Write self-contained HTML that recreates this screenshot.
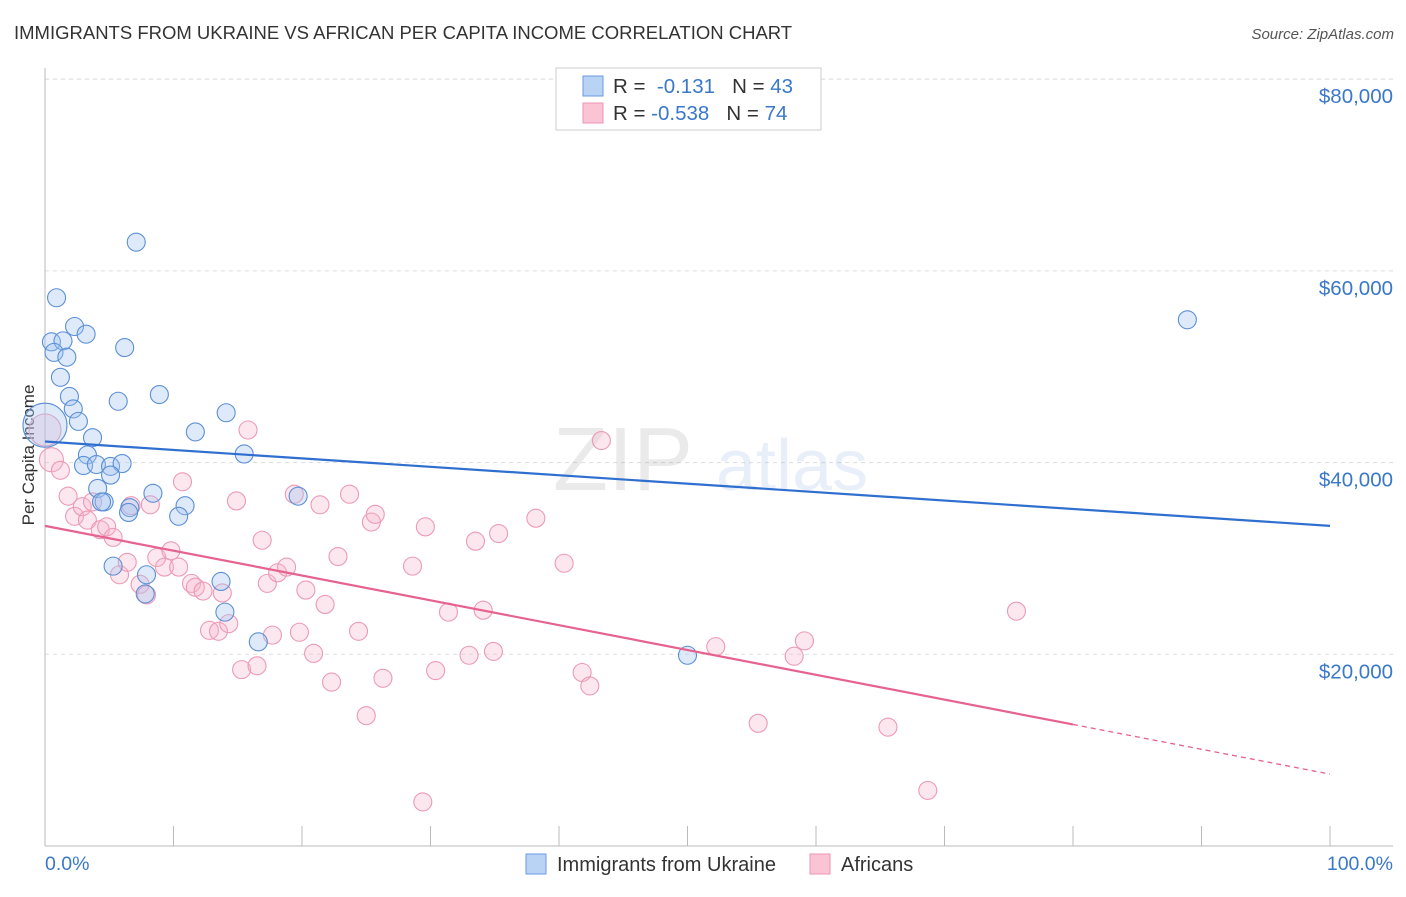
<!DOCTYPE html>
<html><head><meta charset="utf-8"><style>
body{margin:0;background:#fff;font-family:"Liberation Sans",sans-serif;}
svg text{font-family:"Liberation Sans",sans-serif;}
</style></head><body>
<svg width="1406" height="892" viewBox="0 0 1406 892" xmlns="http://www.w3.org/2000/svg">
<text x="14" y="39" font-size="18.5" fill="#333">IMMIGRANTS FROM UKRAINE VS AFRICAN PER CAPITA INCOME CORRELATION CHART</text>
<text x="1394" y="39" font-size="15" fill="#555" font-style="italic" text-anchor="end">Source: ZipAtlas.com</text>
<g id="grid"></g>
<g opacity="0.15"><text x="553" y="490" font-size="90" font-family="Liberation Serif" fill="#777">ZIP</text><text x="716" y="490" font-size="72" fill="#6b97d6">atlas</text></g>
<line x1="45" y1="68" x2="45" y2="846" stroke="#bbb"/>
<line x1="45" y1="846" x2="1393" y2="846" stroke="#bbb"/>
<text x="34" y="455" font-size="17" fill="#333" text-anchor="middle" transform="rotate(-90 34 455)">Per Capita Income</text>
<text x="45" y="870" font-size="19.5" fill="#3a78c9">0.0%</text>
<text x="1393" y="870" font-size="19.5" fill="#3a78c9" text-anchor="end">100.0%</text>
<g id="points"></g>
<g id="lines"></g>
<g>
<rect x="556" y="68" width="265" height="62" fill="#fff" stroke="#ccc"/>
<rect x="583" y="76" width="20" height="20" fill="#b9d3f5" stroke="#6a9ae0"/>
<rect x="583" y="103" width="20" height="20" fill="#fac4d4" stroke="#ec94b2"/>
<text x="613" y="93" font-size="20.5" fill="#333">R = <tspan fill="#3a78c9">&#160;-0.131</tspan>&#160;&#160;&#160;N = <tspan fill="#3a78c9">43</tspan></text>
<text x="613" y="120" font-size="20.5" fill="#333">R = <tspan fill="#3a78c9">-0.538</tspan>&#160;&#160;&#160;N = <tspan fill="#3a78c9">74</tspan></text>
</g>
<g>
<rect x="526" y="854" width="20" height="20" fill="#b9d3f5" stroke="#6a9ae0"/>
<text x="557" y="871" font-size="20" fill="#333">Immigrants from Ukraine</text>
<rect x="810" y="854" width="20" height="20" fill="#fac4d4" stroke="#ec94b2"/>
<text x="841" y="871" font-size="20" fill="#333">Africans</text>
</g>
</svg>
<script>
const yTicks=[20000,40000,60000,80000];
const yTickLabels=["$20,000","$40,000","$60,000","$80,000"];
const xTicks=[0,10,20,30,40,50,60,70,80,90,100];
const ukraineX=[7.1,0.9,2.3,3.2,0.5,1.4,0.7,1.7,6.2,1.2,1.9,2.2,2.6,5.7,8.9,3.7,14.1,11.7,3.3,3.0,4.0,5.1,6.0,15.5,5.1,4.1,8.4,4.6,4.4,6.6,6.5,10.9,10.4,19.7,5.3,7.9,7.8,13.7,14.0,16.6,50.0,88.9,0];
const ukraineY=[63.0,57.2,54.2,53.4,52.6,52.7,51.5,51.0,52.0,48.9,46.9,45.6,44.3,46.4,47.1,42.6,45.2,43.2,40.8,39.7,39.8,39.6,39.9,40.9,38.7,37.3,36.8,35.9,35.9,35.3,34.8,35.5,34.4,36.5,29.2,28.3,26.3,27.6,24.4,21.3,19.9,54.9,43.9];
const africaX=[0,0.5,1.2,1.8,2.3,2.9,3.3,3.7,4.3,4.8,5.3,5.8,6.4,6.7,7.4,7.9,8.2,8.7,9.3,9.8,10.4,10.7,11.4,11.7,12.3,12.8,13.5,13.8,14.3,14.9,15.3,15.8,16.5,16.9,17.3,17.7,18.1,18.8,19.4,19.8,20.3,20.9,21.4,21.8,22.3,22.8,23.7,24.4,25.0,25.4,25.7,26.3,28.6,29.6,29.4,30.4,31.4,33.0,33.5,34.1,34.9,35.3,38.2,40.4,41.8,42.4,43.3,52.2,55.5,58.3,59.1,65.6,68.7,75.6];
const africaY=[43.4,40.3,39.2,36.5,34.4,35.4,34.0,35.9,33.0,33.3,32.2,28.3,29.6,35.5,27.3,26.2,35.6,30.1,29.1,30.8,29.1,38.0,27.4,27.0,26.6,22.5,22.4,26.4,23.2,36.0,18.4,43.4,18.8,31.9,27.4,22.0,28.5,29.1,36.7,22.3,26.7,20.1,35.6,25.2,17.1,30.2,36.7,22.4,13.6,33.8,34.6,17.5,29.2,33.3,4.6,18.3,24.4,19.9,31.8,24.6,20.3,32.6,34.2,29.5,18.1,16.7,42.3,20.8,12.8,19.8,21.4,12.4,5.8,24.5];
const ukraineTrend=[42.2,33.4];
const africaTrend=[33.4,7.5];
const africaSolidEnd=80;
const NS="http://www.w3.org/2000/svg";
const X=v=>45+v*12.85;
const Y=v=>846-v*9.585;
function mk(t,a,p){const e=document.createElementNS(NS,t);for(const k in a)e.setAttribute(k,a[k]);p.appendChild(e);return e;}
const grid=document.getElementById('grid');
yTicks.forEach((t,i)=>{
 const l=mk('line',{x1:45,x2:1393,y1:Y(t/1000),y2:Y(t/1000),stroke:'#ddd','stroke-dasharray':'4,4'},grid);
 
 
 const tx=mk('text',{x:1393,y:Y(t/1000)+24,'font-size':20.5,fill:'#3a78c9','text-anchor':'end'},grid);
 tx.textContent=yTickLabels[i];
 
 
});
mk('line',{x1:45,x2:1393,y1:79,y2:79,stroke:'#ddd','stroke-dasharray':'4,4'},grid);
xTicks.forEach(t=>{
 const l=mk('line',{x1:X(t),x2:X(t),y1:826,y2:846,stroke:'#bbb'},grid);
 
 
});
const pts=document.getElementById('points');
africaX.forEach((x,i)=>{
 const r=(i<2)?(i==0?16:12):9;
 const c=mk('circle',{cx:X(x),cy:Y(africaY[i]),r:r,fill:'rgba(246,180,202,0.32)',stroke:'#ec9ab7','stroke-width':1.1},pts);
 
 
});
ukraineX.forEach((x,i)=>{
 const r=(i==ukraineX.length-1)?22:9;
 const c=mk('circle',{cx:X(x),cy:Y(ukraineY[i]),r:r,fill:'rgba(160,196,240,0.35)',stroke:'#5b8fd6','stroke-width':1.1},pts);
 
 
});
const lines=document.getElementById('lines');
const bl=mk('line',{x1:X(0),y1:Y(ukraineTrend[0]),x2:X(100),y2:Y(ukraineTrend[1]),stroke:'#2f6fd0','stroke-width':2.2},lines);


const pm=v=>africaTrend[0]+(africaTrend[1]-africaTrend[0])*v/100;
const pl=mk('line',{x1:X(0),y1:Y(pm(0)),x2:X(africaSolidEnd),y2:Y(pm(africaSolidEnd)),stroke:'#e6628f','stroke-width':2.2},lines);


const pd=mk('line',{x1:X(africaSolidEnd),y1:Y(pm(africaSolidEnd)),x2:X(100),y2:Y(pm(100)),stroke:'#e6628f','stroke-width':1.3,'stroke-dasharray':'5,4'},lines);


</script>
</body></html>
